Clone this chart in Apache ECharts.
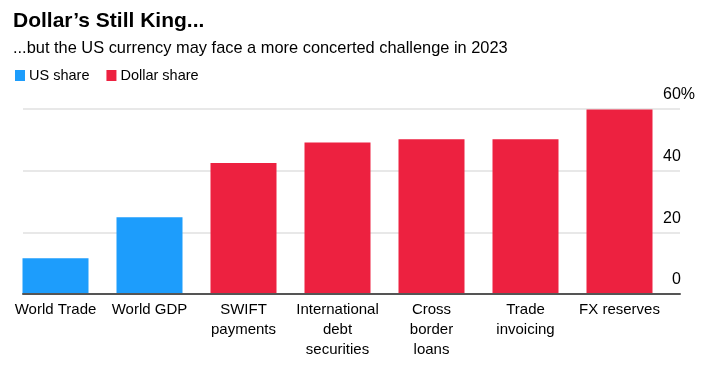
<!DOCTYPE html>
<html>
<head>
<meta charset="utf-8">
<script src="https://cdn.jsdelivr.net/npm/echarts@6/dist/echarts.min.js"></script>
<style>
html,body{margin:0;padding:0;background:#fff;}
#c{width:710px;height:370px;}
</style>
</head>
<body>
<div id="c"></div>
<script>
const titleText = "Dollar\u2019s Still King...";
const subtitleText = "...but the US currency may face a more concerted challenge in 2023";
const categories = ['World Trade', 'World GDP', 'SWIFT\npayments', 'International\ndebt\nsecurities', 'Cross\nborder\nloans', 'Trade\ninvoicing', 'FX reserves'];
const usShare = [11.6, 24.9, '-', '-', '-', '-', '-'];
const dollarShare = ['-', '-', 42.5, 49.1, 50.2, 50.2, 59.8];
const yTicks = [0, 20, 40, 60];

const FONT = '"Liberation Sans", Arial, Helvetica, sans-serif';
const BLUE = '#1d9dfc';
const RED = '#ed2140';

const chart = echarts.init(document.getElementById('c'), null, {renderer: 'canvas'});
chart.setOption({
  animation: false,
  backgroundColor: '#fff',
  textStyle: {fontFamily: FONT},
  title: [
    {text: titleText, left: 8, top: 6,
     textStyle: {fontFamily: FONT, fontWeight: 'bold', fontSize: 21, color: '#000'}},
    {text: subtitleText, left: 8, top: 35,
     textStyle: {fontFamily: FONT, fontWeight: 'normal', fontSize: 16.4, color: '#000'}}
  ],
  legend: {
    left: 10, top: 63, icon: 'rect', itemWidth: 10, itemHeight: 11, itemGap: 17,
    textStyle: {fontFamily: FONT, fontSize: 14.5, color: '#000', padding: [0, 0, 0, -1]},
    data: ['US share', 'Dollar share']
  },
  grid: [
    {left: 8.5, width: 658, top: 109, bottom: 76},
    {left: 23, right: 30, top: 109, bottom: 76}
  ],
  xAxis: [
    {type: 'category', gridIndex: 0, data: categories,
     axisLine: {show: false}, axisTick: {show: false}, splitLine: {show: false},
     axisLabel: {interval: 0, margin: 6, fontFamily: FONT, fontSize: 15, lineHeight: 20, color: '#000'}},
    {type: 'value', gridIndex: 1, min: 0, max: 1,
     axisLine: {show: true, onZero: false, lineStyle: {color: '#555', width: 2}},
     axisTick: {show: false}, axisLabel: {show: false}, splitLine: {show: false}, z: 10}
  ],
  yAxis: [
    {type: 'value', gridIndex: 0, min: 0, max: 60, show: false},
    {type: 'value', gridIndex: 1, min: 0, max: 60, interval: 20, position: 'right',
     axisLine: {show: false}, axisTick: {show: false},
     splitLine: {show: true, lineStyle: {color: '#e0e0e0', width: 1.5}},
     axisLabel: {
       inside: true, margin: -15, verticalAlign: 'bottom', align: 'right',
       padding: [0, 0, 6, 0],
       fontFamily: FONT, fontSize: 16, color: '#000',
       formatter: function (v) {
         return '{n|' + v + '}' + (v === yTicks[yTicks.length - 1] ? '{p|%}' : '{h|%}');
       },
       rich: {
         n: {fontFamily: FONT, fontSize: 16, color: '#000'},
         p: {fontFamily: FONT, fontSize: 16, color: '#000'},
         h: {fontFamily: FONT, fontSize: 16, color: 'rgba(0,0,0,0)'}
       }
     }}
  ],
  series: [
    {name: 'US share', type: 'bar', xAxisIndex: 0, yAxisIndex: 0, data: usShare,
     barWidth: 66, barGap: '-100%', itemStyle: {color: BLUE}},
    {name: 'Dollar share', type: 'bar', xAxisIndex: 0, yAxisIndex: 0, data: dollarShare,
     barWidth: 66, barGap: '-100%', itemStyle: {color: RED}}
  ]
});
</script>
</body>
</html>
